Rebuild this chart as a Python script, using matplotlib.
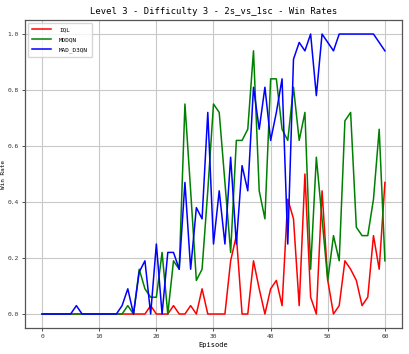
import numpy as np
import matplotlib
matplotlib.use("Agg")
import matplotlib.pyplot as plt

# win rates per evaluation episode
episodes = list(range(61))

iql = [0, 0, 0, 0, 0, 0, 0, 0, 0, 0,
       0, 0, 0, 0, 0, 0, 0, 0, 0, 0.03,
       0, 0, 0, 0.03, 0, 0, 0.03, 0, 0.09, 0,
       0, 0, 0, 0.19, 0.28, 0, 0, 0.19, 0.09, 0,
       0.09, 0.12, 0.03, 0.41, 0.34, 0.03, 0.50, 0.06, 0, 0.44,
       0.12, 0, 0.03, 0.19, 0.16, 0.12, 0.03, 0.06, 0.28, 0.16,
       0.47]

mddqn = [0, 0, 0, 0, 0, 0, 0, 0, 0, 0,
         0, 0, 0, 0, 0, 0.03, 0, 0.16, 0.09, 0.06,
         0.06, 0.22, 0, 0.19, 0.16, 0.75, 0.44, 0.12, 0.16, 0.44,
         0.75, 0.72, 0.47, 0.22, 0.62, 0.62, 0.66, 0.94, 0.44, 0.34,
         0.84, 0.84, 0.66, 0.62, 0.81, 0.62, 0.72, 0.16, 0.56, 0.34,
         0.12, 0.28, 0.19, 0.69, 0.72, 0.31, 0.28, 0.28, 0.41, 0.66,
         0.19]

mad_d3qn = [0, 0, 0, 0, 0, 0, 0.03, 0, 0, 0,
            0, 0, 0, 0, 0.03, 0.09, 0, 0.15, 0.19, 0,
            0.25, 0, 0.22, 0.22, 0.16, 0.47, 0.16, 0.38, 0.34, 0.72,
            0.25, 0.44, 0.25, 0.56, 0.25, 0.53, 0.44, 0.81, 0.66, 0.81,
            0.62, 0.72, 0.84, 0.25, 0.91, 0.97, 0.94, 1.0, 0.78, 1.0,
            0.97, 0.94, 1.0, 1.0, 1.0, 1.0, 1.0, 1.0, 1.0, 0.97,
            0.94]

plt.rcParams['font.family'] = ['DejaVu Sans Mono']

fig = plt.figure(figsize=(4.09, 3.54), dpi=100)
ax = fig.add_axes([0.061, 0.0734, 0.922, 0.870])

ax.plot(episodes, iql, color="red", linewidth=1.1, label="IQL")
ax.plot(episodes, mddqn, color="green", linewidth=1.1, label="MDDQN")
ax.plot(episodes, mad_d3qn, color="blue", linewidth=1.1, label="MAD_D3QN")

ax.grid(True, color="#c8c8c8", linewidth=0.8)
ax.set_axisbelow(True)

ax.set_title("Level 3 - Difficulty 3 - 2s_vs_1sc - Win Rates", fontsize=6.4, pad=4)
ax.set_xlabel("Episode", fontsize=5, labelpad=2)
ax.set_ylabel("Win Rate", fontsize=4.3, labelpad=1)

ax.tick_params(labelsize=4.5, length=2.5, width=0.6, pad=2, colors="#333333")
for s in ax.spines.values():
    s.set_color("#555555")
    s.set_linewidth(0.9)

ax.legend(loc="upper left", fontsize=4.3, handlelength=3.2, handletextpad=1.3,
          labelspacing=0.8, borderpad=0.7, framealpha=0.8, edgecolor="#cccccc")

fig.savefig("out.png", dpi=100)
